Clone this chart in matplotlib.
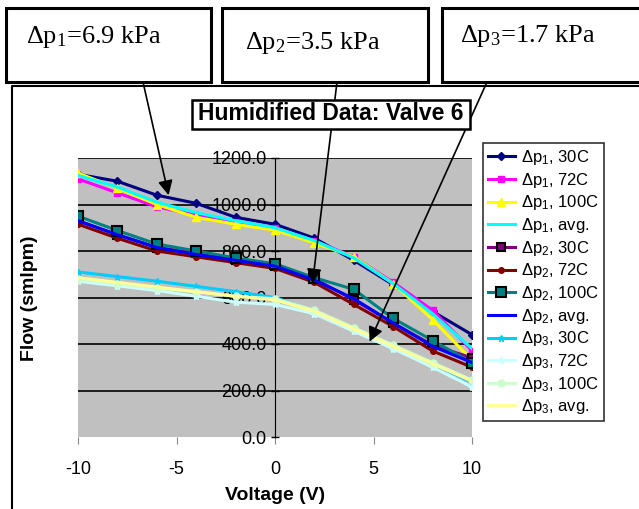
import numpy as np
import matplotlib
matplotlib.use("Agg")
import matplotlib.pyplot as plt
from matplotlib.patches import Rectangle
from matplotlib.lines import Line2D

plt.rcParams['font.family'] = ['Liberation Sans', 'DejaVu Sans']
plt.rcParams['mathtext.fontset'] = 'custom'
plt.rcParams['mathtext.rm'] = 'Liberation Sans'

# voltage steps
voltage = [-10, -8, -6, -4, -2, 0, 2, 4, 6, 8, 10]

# dp1 = 6.9 kPa
p1_30 = [1130, 1100, 1040, 1005, 945, 915, 855, 760, 655, 540, 440]
p1_72 = [1110, 1050, 990, 955, 925, 900, 843, 775, 665, 545, 372]
p1_100 = [1135, 1070, 1000, 945, 915, 890, 835, 775, 660, 505, 330]
p1_avg = [1125, 1075, 1010, 965, 930, 900, 845, 770, 660, 530, 380]
# dp2 = 3.5 kPa
p2_30 = [930, 870, 815, 790, 760, 735, 680, 590, 490, 395, 340]
p2_72 = [915, 855, 800, 775, 750, 725, 665, 570, 475, 370, 300]
p2_100 = [950, 888, 830, 800, 770, 745, 685, 635, 510, 415, 320]
p2_avg = [930, 870, 815, 785, 760, 735, 675, 595, 490, 390, 320]
# dp3 = 1.7 kPa
p3_30 = [710, 690, 670, 648, 625, 600, 540, 465, 390, 315, 235]
p3_72 = [670, 650, 630, 605, 580, 570, 530, 455, 380, 300, 215]
p3_100 = [680, 660, 640, 625, 605, 595, 545, 470, 395, 320, 245]
p3_avg = [685, 665, 645, 625, 605, 590, 540, 465, 390, 315, 240]

yticks = [0, 200, 400, 600, 800, 1000, 1200]
xticks = [-10, -5, 0, 5, 10]

W, H = 639, 509
fig = plt.figure(figsize=(W/100, H/100), dpi=100)

def fx(x):
    return x / W

def fy(y):
    return 1 - y / H

ax = fig.add_axes([fx(78), fy(437), fx(472) - fx(78), fy(158) - fy(437)])
ax.set_facecolor('#c0c0c0')
ax.set_xlim(-10, 10)
ax.set_ylim(0, 1200)

for yv in yticks[1:]:
    ax.axhline(yv, color='black', lw=1.2, zorder=1)

series = [
    (p1_30, '#000080', 'D', 4, None, r'$\mathregular{\Delta p_1}$, 30C'),
    (p1_72, '#ff00ff', 's', 5, None, r'$\mathregular{\Delta p_1}$, 72C'),
    (p1_100, '#ffff00', '^', 6, None, r'$\mathregular{\Delta p_1}$, 100C'),
    (p1_avg, '#00ffff', None, 0, None, r'$\mathregular{\Delta p_1}$, avg.'),
    (p2_30, '#800080', 's', 6, 'black', r'$\mathregular{\Delta p_2}$, 30C'),
    (p2_72, '#800000', 'o', 4, None, r'$\mathregular{\Delta p_2}$, 72C'),
    (p2_100, '#008080', 's', 7, 'black', r'$\mathregular{\Delta p_2}$, 100C'),
    (p2_avg, '#0000ff', None, 0, None, r'$\mathregular{\Delta p_2}$, avg.'),
    (p3_30, '#00ccff', '*', 5, None, r'$\mathregular{\Delta p_3}$, 30C'),
    (p3_72, '#ccffff', '*', 6, None, r'$\mathregular{\Delta p_3}$, 72C'),
    (p3_100, '#ccffcc', 'o', 5, None, r'$\mathregular{\Delta p_3}$, 100C'),
    (p3_avg, '#ffff99', None, 0, None, r'$\mathregular{\Delta p_3}$, avg.'),
]

handles = []
for vals, col, mk, ms, mec, lab in series:
    h, = ax.plot(voltage, vals, color=col, lw=2.2, marker=mk, ms=ms,
                 mec=mec if mec else col, mew=1.5 if mec else 1,
                 label=lab, zorder=3)
    handles.append(h)

# y axis crosses at x = 0
for s in ['top', 'right']:
    ax.spines[s].set_visible(False)
ax.spines['bottom'].set_visible(False)
ax.spines['left'].set_position(('data', 0))
ax.spines['left'].set_linewidth(0.8)
ax.spines['left'].set_zorder(2)
ax.set_yticks(yticks)
ax.set_yticklabels(['%.1f' % v for v in yticks], fontsize=13)
ax.tick_params(axis='y', direction='inout', length=6, width=1, pad=3)
ax.set_xticks(xticks)
ax.set_xticklabels([str(v) for v in xticks], fontsize=13)
ax.tick_params(axis='x', direction='out', length=5, width=0.8, color='#888888', pad=12)
for lab in ax.get_yticklabels():
    lab.set_zorder(5)

fig.text(fx(275), fy(495), 'Voltage (V)', fontsize=14, fontweight='bold', ha='center', va='center')
fig.text(fx(30), fy(298), 'Flow (smlpm)', fontsize=14, fontweight='bold', ha='center', va='center', rotation=90)

leg = fig.legend(handles=handles, loc='upper left', bbox_to_anchor=(fx(483), fy(143)),
                 bbox_transform=fig.transFigure, fontsize=12, frameon=True, fancybox=False,
                 borderaxespad=0, handlelength=1.6, handletextpad=0.4, labelspacing=0.22,
                 borderpad=0.3, edgecolor='black')
leg.get_frame().set_linewidth(1.2)

# outer chart border
fig.add_artist(Line2D([fx(12), fx(12), fx(639)], [fy(509), fy(86), fy(86)],
                      transform=fig.transFigure, color='black', lw=1.5))

# pressure boxes
boxes = [(6, 211, r'$\mathregular{\Delta p_1}$=6.9 kPa', 26, 37),
         (222, 428, r'$\mathregular{\Delta p_2}$=3.5 kPa', 245, 43),
         (442, 660, r'$\mathregular{\Delta p_3}$=1.7 kPa', 460, 36)]
for x0, x1, txt, tx, ty in boxes:
    fig.add_artist(Rectangle((fx(x0), fy(82)), fx(x1) - fx(x0), fy(8) - fy(82),
                             transform=fig.transFigure, fill=True, facecolor='white',
                             edgecolor='black', lw=2.2))
    fig.text(fx(tx), fy(ty), txt, fontsize=19, family='Liberation Serif', ha='left', va='center')

# arrows from boxes to curves
arrows = [((143, 82), (-5.4, 1040)), ((337, 82), (1.9, 660)), ((487, 82), (4.8, 410))]
for (sx, sy), (dx, dy) in arrows:
    ax.annotate('', xy=(dx, dy), xycoords='data', xytext=(fx(sx), fy(sy)),
                textcoords='figure fraction',
                arrowprops=dict(arrowstyle='-|>', color='black', lw=1.2,
                                mutation_scale=22, shrinkA=0, shrinkB=0),
                zorder=6, annotation_clip=False)

# title box
fig.add_artist(Rectangle((fx(192), fy(129)), fx(470) - fx(192), fy(100) - fy(129),
                         transform=fig.transFigure, facecolor='white', edgecolor='black',
                         lw=1.8, zorder=9))
fig.text(fx(198), fy(114), 'Humidified Data: Valve 6', fontsize=16.5, fontweight='bold',
         ha='left', va='center', zorder=10)

fig.savefig('out.png', dpi=100)
